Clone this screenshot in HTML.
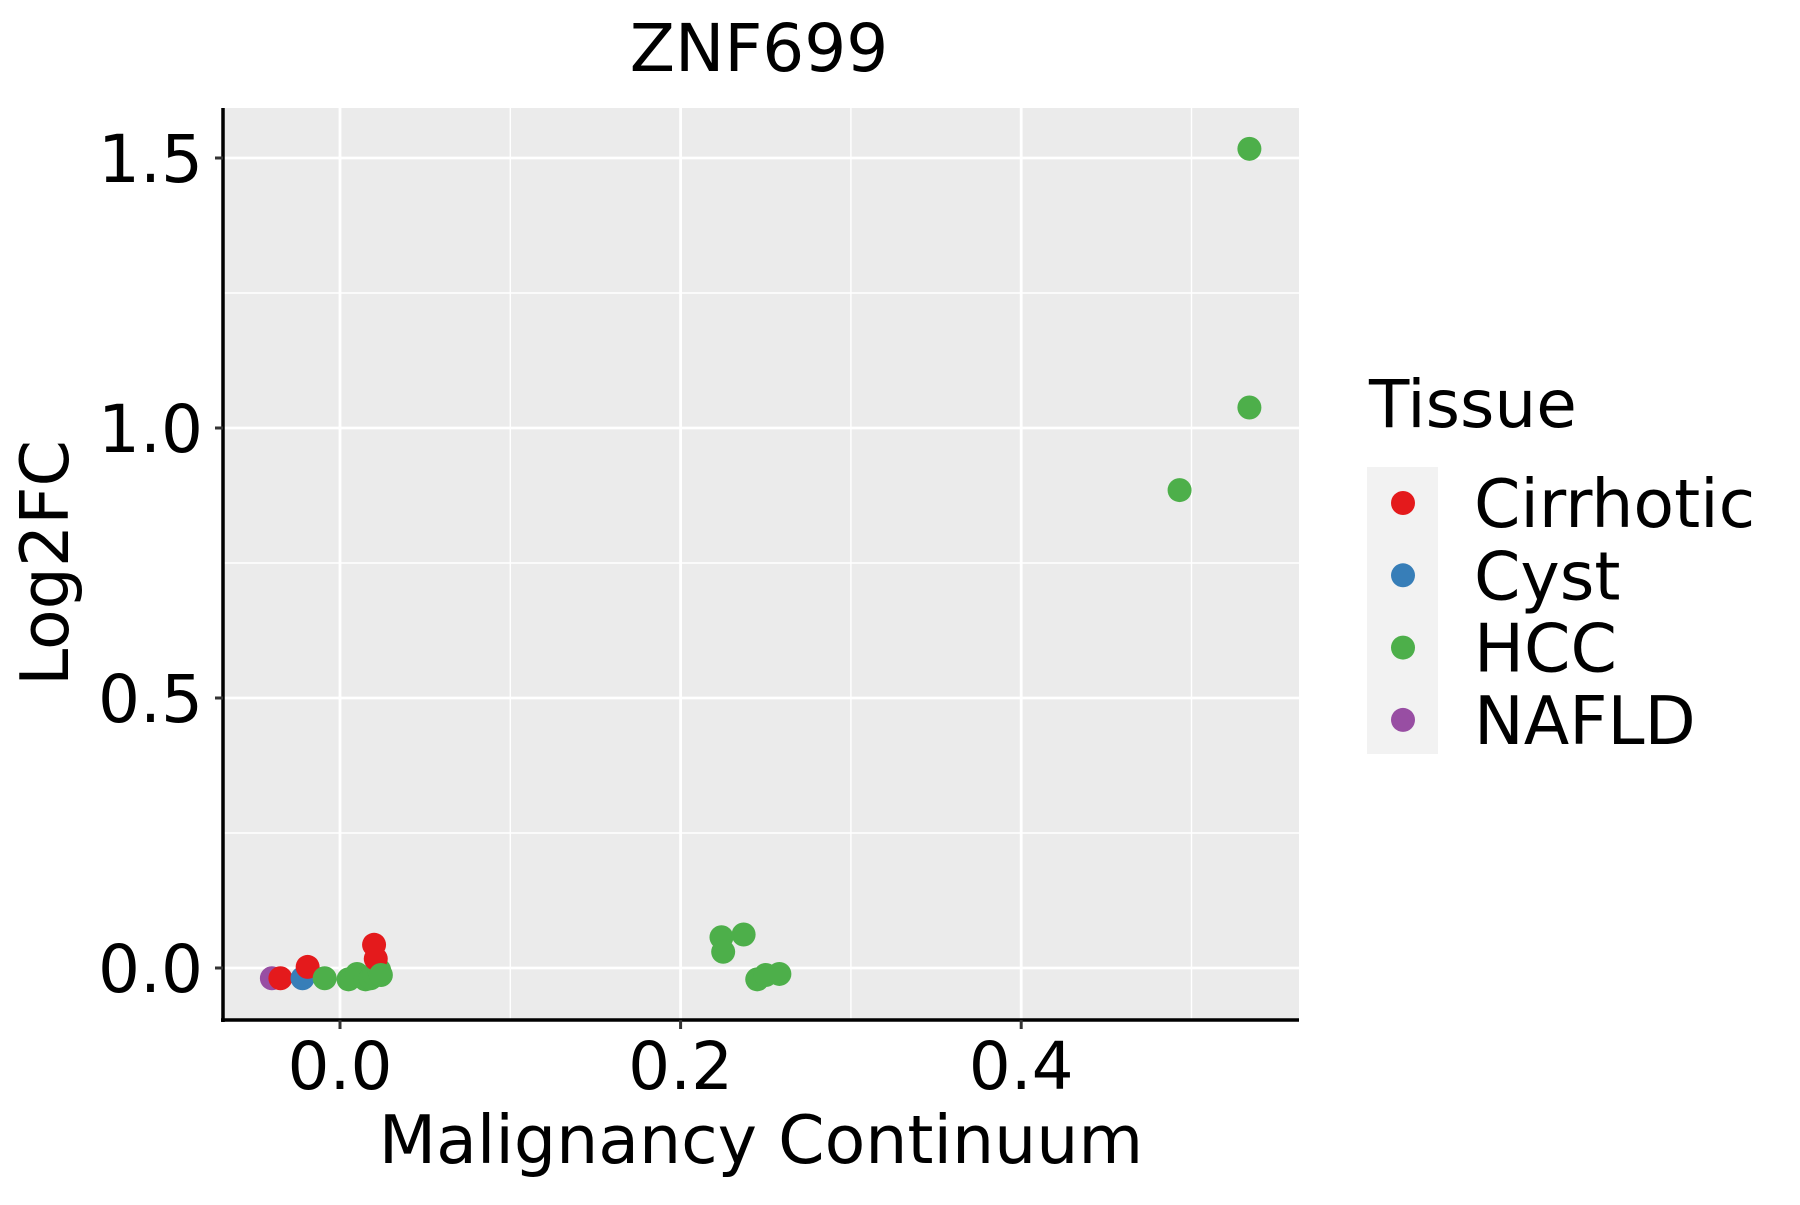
<!DOCTYPE html>
<html><head><meta charset="utf-8"><style>
html,body{margin:0;padding:0;background:#fff}
svg text{font-family:"DejaVu Sans","Liberation Sans",sans-serif;fill:#000}
</style></head><body>
<svg id="chart" width="1800" height="1200" viewBox="0 0 1800 1200" xmlns="http://www.w3.org/2000/svg">
<rect width="1800" height="1200" fill="#fff"/>
<text x="759" y="71" font-size="66" text-anchor="middle">ZNF699</text>
<rect x="223" y="108" width="1076" height="912" fill="#ebebeb"/>
<g id="grid"></g>
<g id="points"></g>
<line x1="223" y1="108" x2="223" y2="1022" stroke="#000" stroke-width="3.5"/>
<line x1="221" y1="1020" x2="1299" y2="1020" stroke="#000" stroke-width="3.5"/>
<g id="ticks"></g>
<text x="761" y="1163" font-size="66.5" text-anchor="middle">Malignancy Continuum</text>
<text transform="translate(68,563) rotate(-90)" font-size="66.5" text-anchor="middle">Log2FC</text>
<text x="1369" y="427" font-size="66">Tissue</text>
<rect x="1367" y="467" width="71" height="287" fill="#f2f2f2"/>
<g id="legend"></g>
</svg>
<script>
const categories = ["Cirrhotic","Cyst","HCC","NAFLD"];
const colors = ["#e41a1c","#377eb8","#4daf4a","#984ea3"];
const xTicks = [0.0, 0.2, 0.4];
const xTickLabels = ["0.0","0.2","0.4"];
const xMinor = [0.1, 0.3, 0.5];
const yTicks = [0.0, 0.5, 1.0, 1.5];
const yTickLabels = ["0.0","0.5","1.0","1.5"];
const yMinor = [0.25, 0.75, 1.25];
const ptTissue = ["NAFLD","Cirrhotic","Cyst","Cirrhotic","HCC","HCC","HCC","HCC","HCC","HCC","HCC","Cirrhotic","Cirrhotic","HCC","HCC","HCC","HCC","HCC","HCC","HCC","HCC","HCC","HCC"];
const ptX = [-0.040,-0.035,-0.022,-0.019,-0.009,0.005,0.010,0.015,0.018,0.020,0.023,0.020,0.021,0.024,0.224,0.225,0.237,0.245,0.250,0.258,0.493,0.534,0.534];
const ptY = [-0.019,-0.019,-0.019,0.002,-0.019,-0.021,-0.011,-0.021,-0.019,-0.011,-0.004,0.043,0.017,-0.013,0.057,0.030,0.062,-0.021,-0.013,-0.011,0.885,1.038,1.517];

const NS = "http://www.w3.org/2000/svg";
const sx = v => 340 + v * 1703;
const sy = v => 968 - v * 540;
function mk(tag, attrs, parent){const e=document.createElementNS(NS,tag);for(const k in attrs)e.setAttribute(k,attrs[k]);parent.appendChild(e);return e;}
const grid=document.getElementById('grid'), ticks=document.getElementById('ticks'), pts=document.getElementById('points'), leg=document.getElementById('legend');
yMinor.forEach(v=>{const l=mk('line',{x1:223,x2:1299,y1:sy(v),y2:sy(v),stroke:'#fff','stroke-width':1.4},grid);

});
xMinor.forEach(v=>{const l=mk('line',{x1:sx(v),x2:sx(v),y1:108,y2:1020,stroke:'#fff','stroke-width':1.4},grid);

});
yTicks.forEach((v,i)=>{const l=mk('line',{x1:223,x2:1299,y1:sy(v),y2:sy(v),stroke:'#fff','stroke-width':2.8},grid);


const t=mk('line',{x1:215,x2:223,y1:sy(v),y2:sy(v),stroke:'#333','stroke-width':3},ticks);


const tx=mk('text',{x:203,y:sy(v)+24,'font-size':66,'text-anchor':'end'},ticks);tx.textContent=yTickLabels[i];

});
xTicks.forEach((v,i)=>{const l=mk('line',{x1:sx(v),x2:sx(v),y1:108,y2:1020,stroke:'#fff','stroke-width':2.8},grid);


const t=mk('line',{x1:sx(v),x2:sx(v),y1:1020,y2:1029,stroke:'#333','stroke-width':3},ticks);


const tx=mk('text',{x:sx(v),y:1089,'font-size':66,'text-anchor':'middle'},ticks);tx.textContent=xTickLabels[i];

});
ptX.forEach((x,i)=>{const c=mk('circle',{cx:sx(x),cy:sy(ptY[i]),r:12,fill:colors[categories.indexOf(ptTissue[i])]},pts);

});
categories.forEach((c,i)=>{const y=503+i*72.3;
const d=mk('circle',{cx:1403,cy:y,r:12,fill:colors[i]},leg);


const t=mk('text',{x:1474,y:y+24,'font-size':66.5},leg);t.textContent=c;

});
</script>
</body></html>
